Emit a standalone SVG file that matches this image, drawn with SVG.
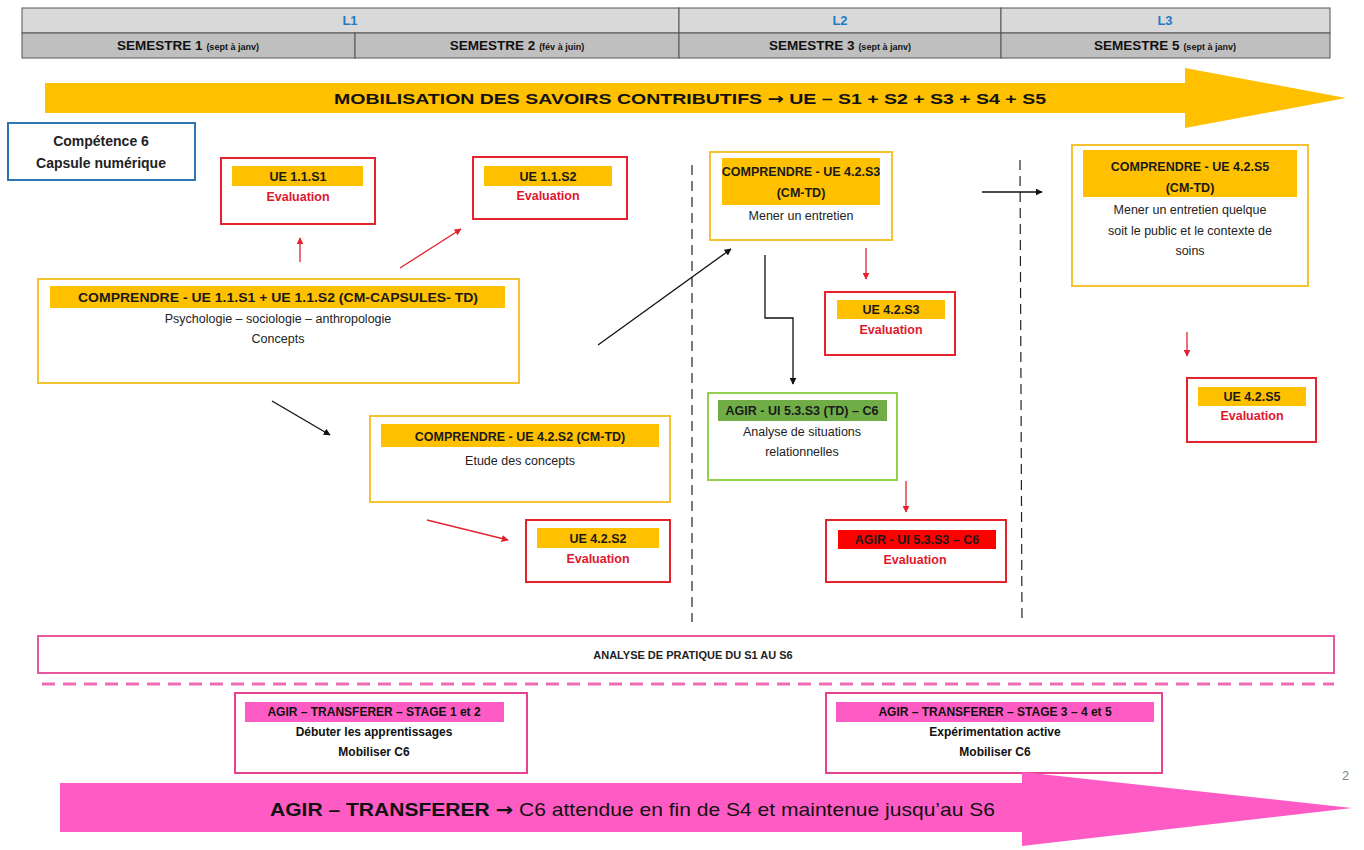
<svg xmlns="http://www.w3.org/2000/svg" width="1364" height="850" viewBox="0 0 1364 850">
  <style>
    text { font-family: "Liberation Sans", Arial, sans-serif; }
    .hdr { font-weight: bold; font-size: 13.5px; fill: #111; text-anchor: middle; }
    .hdr tspan.small { font-size: 9px; }
    .lvl { font-weight: bold; font-size: 13px; fill: #1F7BC4; text-anchor: middle; }
    .cell1 { fill: #D9D9D9; stroke: #555; stroke-width: 1; }
    .cell2 { fill: #BFBFBF; stroke: #555; stroke-width: 1; }
    .ybox { fill: #fff; stroke: #F5C232; stroke-width: 2; }
    .rbox { fill: #fff; stroke: #E5222E; stroke-width: 2; }
    .gbox { fill: #fff; stroke: #92D050; stroke-width: 2; }
    .pbox { fill: #fff; stroke: #E8428F; stroke-width: 2; }
    .olab { fill: #FFC000; }
    .glab { fill: #70AD47; }
    .plab { fill: #FF5BC4; }
    .title { font-weight: bold; font-size: 12.5px; fill: #1a1a1a; text-anchor: middle; }
    .body { font-size: 12.5px; fill: #222; text-anchor: middle; }
    .bodyb { font-weight: bold; font-size: 12px; fill: #111; text-anchor: middle; }
    .eval { font-weight: bold; font-size: 12.5px; fill: #E0182D; text-anchor: middle; }
    .arrowglyph { font-family: "DejaVu Sans", sans-serif; font-weight: bold; }
    .dash { stroke: #222; stroke-width: 1.2; stroke-dasharray: 10 6; fill: none; }
    .blk { stroke: #111; stroke-width: 1.3; fill: none; marker-end: url(#ahBlack); }
    .red { stroke: #E5222E; stroke-width: 1.3; fill: none; marker-end: url(#ahRed); }
  </style>
  <defs>
    <marker id="ahBlack" viewBox="0 0 10 10" refX="9" refY="5" markerWidth="7" markerHeight="7" markerUnits="userSpaceOnUse" orient="auto">
      <path d="M0,0 L10,5 L0,10 z" fill="#111"/>
    </marker>
    <marker id="ahRed" viewBox="0 0 10 10" refX="9" refY="5" markerWidth="7" markerHeight="7" markerUnits="userSpaceOnUse" orient="auto">
      <path d="M0,0 L10,5 L0,10 z" fill="#E5222E"/>
    </marker>
  </defs>

  <rect width="1364" height="850" fill="#fff"/>

  <!-- year / semester table -->
  <g id="table">
    <rect class="cell1" x="22" y="8" width="657" height="25"/>
    <rect class="cell1" x="679" y="8" width="322" height="25"/>
    <rect class="cell1" x="1001" y="8" width="329" height="25"/>
    <rect class="cell2" x="22" y="33" width="333" height="25"/>
    <rect class="cell2" x="355" y="33" width="324" height="25"/>
    <rect class="cell2" x="679" y="33" width="322" height="25"/>
    <rect class="cell2" x="1001" y="33" width="329" height="25"/>
    <text class="lvl" x="350" y="25">L1</text>
    <text class="lvl" x="840" y="25">L2</text>
    <text class="lvl" x="1165" y="25">L3</text>
    <text class="hdr" x="188" y="50">SEMESTRE 1 <tspan class="small">(sept à janv)</tspan></text>
    <text class="hdr" x="517" y="50">SEMESTRE 2 <tspan class="small">(fév à juin)</tspan></text>
    <text class="hdr" x="840" y="50">SEMESTRE 3 <tspan class="small">(sept à janv)</tspan></text>
    <text class="hdr" x="1165" y="50">SEMESTRE 5 <tspan class="small">(sept à janv)</tspan></text>
  </g>

  <!-- knowledge mobilisation arrow -->
  <g id="mobilisation">
    <path d="M45,83 L1185,83 L1185,68 L1346,98 L1185,128 L1185,113 L45,113 z" fill="#FFC000"/>
    <text x="690" y="104" text-anchor="middle" font-weight="bold" font-size="15.5px" fill="#111" textLength="712" lengthAdjust="spacingAndGlyphs">MOBILISATION DES SAVOIRS CONTRIBUTIFS <tspan class="arrowglyph">→</tspan> UE – S1 + S2 + S3 + S4 + S5</text>
  </g>

  <!-- semester separators -->
  <g id="separators">
    <line class="dash" x1="692" y1="165" x2="692" y2="622"/>
    <line class="dash" x1="1020" y1="160" x2="1022" y2="622"/>
  </g>

  <g id="competence6">
    <rect x="8" y="123" width="187" height="57" fill="#fff" stroke="#2E75B6" stroke-width="2"/>
    <text x="101" y="146" text-anchor="middle" font-weight="bold" font-size="14px" fill="#222">Compétence 6</text>
    <text x="101" y="168" text-anchor="middle" font-weight="bold" font-size="14px" fill="#222">Capsule numérique</text>
  </g>

  <g id="ue11s1-eval">
    <rect class="rbox" x="221" y="158" width="154" height="66"/>
    <rect class="olab" x="232" y="166" width="131" height="20"/>
    <text class="title" x="298" y="181">UE 1.1.S1</text>
    <text class="eval" x="298" y="201">Evaluation</text>
  </g>

  <g id="ue11s2-eval">
    <rect class="rbox" x="473" y="157" width="154" height="62"/>
    <rect class="olab" x="484" y="166" width="128" height="20"/>
    <text class="title" x="548" y="181">UE 1.1.S2</text>
    <text class="eval" x="548" y="200">Evaluation</text>
  </g>

  <g id="ue11-comprendre">
    <rect class="ybox" x="38" y="279" width="481" height="104"/>
    <rect class="olab" x="50" y="286" width="455" height="22"/>
    <text class="title" x="278" y="302" textLength="400" lengthAdjust="spacingAndGlyphs">COMPRENDRE - UE 1.1.S1 + UE 1.1.S2 (CM-CAPSULES- TD)</text>
    <text class="body" x="278" y="323">Psychologie – sociologie – anthropologie</text>
    <text class="body" x="278" y="343">Concepts</text>
  </g>

  <g id="ue42s3-comprendre">
    <rect class="ybox" x="710" y="152" width="182" height="88"/>
    <rect class="olab" x="722" y="158" width="158" height="47"/>
    <text class="title" x="801" y="176">COMPRENDRE - UE 4.2.S3</text>
    <text class="title" x="801" y="197">(CM-TD)</text>
    <text class="body" x="801" y="220">Mener un entretien</text>
  </g>

  <g id="ue42s5-comprendre">
    <rect class="ybox" x="1072" y="145" width="236" height="141"/>
    <rect class="olab" x="1083" y="150" width="214" height="47"/>
    <text class="title" x="1190" y="171">COMPRENDRE - UE 4.2.S5</text>
    <text class="title" x="1190" y="192">(CM-TD)</text>
    <text class="body" x="1190" y="214">Mener un entretien quelque</text>
    <text class="body" x="1190" y="235">soit le public et le contexte de</text>
    <text class="body" x="1190" y="255">soins</text>
  </g>

  <g id="ue42s3-eval">
    <rect class="rbox" x="825" y="292" width="130" height="63"/>
    <rect class="olab" x="837" y="300" width="108" height="19"/>
    <text class="title" x="891" y="314">UE 4.2.S3</text>
    <text class="eval" x="891" y="334">Evaluation</text>
  </g>

  <g id="ui53s3-agir">
    <rect class="gbox" x="708" y="393" width="189" height="87"/>
    <rect class="glab" x="718" y="400" width="169" height="21"/>
    <text class="title" x="802" y="415">AGIR - UI 5.3.S3 (TD) – C6</text>
    <text class="body" x="802" y="436">Analyse de situations</text>
    <text class="body" x="802" y="456">relationnelles</text>
  </g>

  <g id="ui53s3-eval">
    <rect class="rbox" x="826" y="520" width="180" height="62"/>
    <rect x="838" y="530" width="158" height="19" fill="#FF0000"/>
    <text class="title" x="917" y="544">AGIR  - UI 5.3.S3 – C6</text>
    <text class="eval" x="915" y="564" font-size="14px">Evaluation</text>
  </g>

  <g id="ue42s5-eval">
    <rect class="rbox" x="1187" y="378" width="129" height="64"/>
    <rect class="olab" x="1198" y="387" width="108" height="19"/>
    <text class="title" x="1252" y="401">UE 4.2.S5</text>
    <text class="eval" x="1252" y="420">Evaluation</text>
  </g>

  <g id="ue42s2-comprendre">
    <rect class="ybox" x="370" y="416" width="300" height="86"/>
    <rect class="olab" x="381" y="424" width="278" height="23"/>
    <text class="title" x="520" y="441" font-size="14px">COMPRENDRE - UE 4.2.S2 (CM-TD)</text>
    <text class="body" x="520" y="465">Etude des concepts</text>
  </g>

  <g id="ue42s2-eval">
    <rect class="rbox" x="526" y="520" width="144" height="62"/>
    <rect class="olab" x="537" y="528" width="122" height="20"/>
    <text class="title" x="598" y="543">UE 4.2.S2</text>
    <text class="eval" x="598" y="563">Evaluation</text>
  </g>

  <!-- connectors -->
  <g id="connectors">
    <line class="red" x1="300" y1="262" x2="300" y2="238"/>
    <line class="red" x1="400" y1="268" x2="461" y2="229"/>
    <line class="blk" x1="598" y1="345" x2="731" y2="249"/>
    <line class="blk" x1="272" y1="401" x2="330" y2="435"/>
    <line class="red" x1="427" y1="520" x2="508" y2="540"/>
    <line class="red" x1="866" y1="248" x2="866" y2="279"/>
    <polyline class="blk" points="765,255 765,318 793,318 793,384"/>
    <line class="red" x1="906" y1="481" x2="906" y2="512"/>
    <line class="blk" x1="982" y1="192" x2="1042" y2="192"/>
    <line class="red" x1="1187" y1="332" x2="1187" y2="356"/>
  </g>

  <g id="analyse-pratique">
    <rect x="38" y="636" width="1296" height="37" fill="#fff" stroke="#E8589B" stroke-width="2"/>
    <text x="693" y="659" text-anchor="middle" font-weight="bold" font-size="11px" fill="#222">ANALYSE DE PRATIQUE DU S1 AU S6</text>
  </g>

  <line x1="42" y1="684" x2="1334" y2="684" stroke="#F06CB4" stroke-width="3" stroke-dasharray="13 8"/>

  <g id="stage12">
    <rect class="pbox" x="235" y="693" width="292" height="80"/>
    <rect class="plab" x="245" y="702" width="259" height="20"/>
    <text class="bodyb" x="374" y="716">AGIR – TRANSFERER – STAGE 1 et 2</text>
    <text class="bodyb" x="374" y="736">Débuter les apprentissages</text>
    <text class="bodyb" x="374" y="756">Mobiliser C6</text>
  </g>

  <g id="stage345">
    <rect class="pbox" x="826" y="693" width="336" height="80"/>
    <rect class="plab" x="836" y="702" width="318" height="20"/>
    <text class="bodyb" x="995" y="716">AGIR – TRANSFERER – STAGE 3 – 4 et 5</text>
    <text class="bodyb" x="995" y="736">Expérimentation active</text>
    <text class="bodyb" x="995" y="756">Mobiliser C6</text>
  </g>

  <!-- transfer arrow -->
  <g id="transferer">
    <path d="M60,783 L1022,783 L1022,772 L1352,808 L1022,846 L1022,832 L60,832 z" fill="#FF5BC4"/>
    <text x="270" y="816" font-size="18.5px" fill="#111" textLength="725" lengthAdjust="spacingAndGlyphs"><tspan font-weight="bold">AGIR – TRANSFERER </tspan><tspan class="arrowglyph">→</tspan> C6 attendue en fin de S4 et maintenue jusqu’au S6</text>
  </g>

  <text x="1342" y="780" font-size="13px" fill="#888">2</text>
</svg>
